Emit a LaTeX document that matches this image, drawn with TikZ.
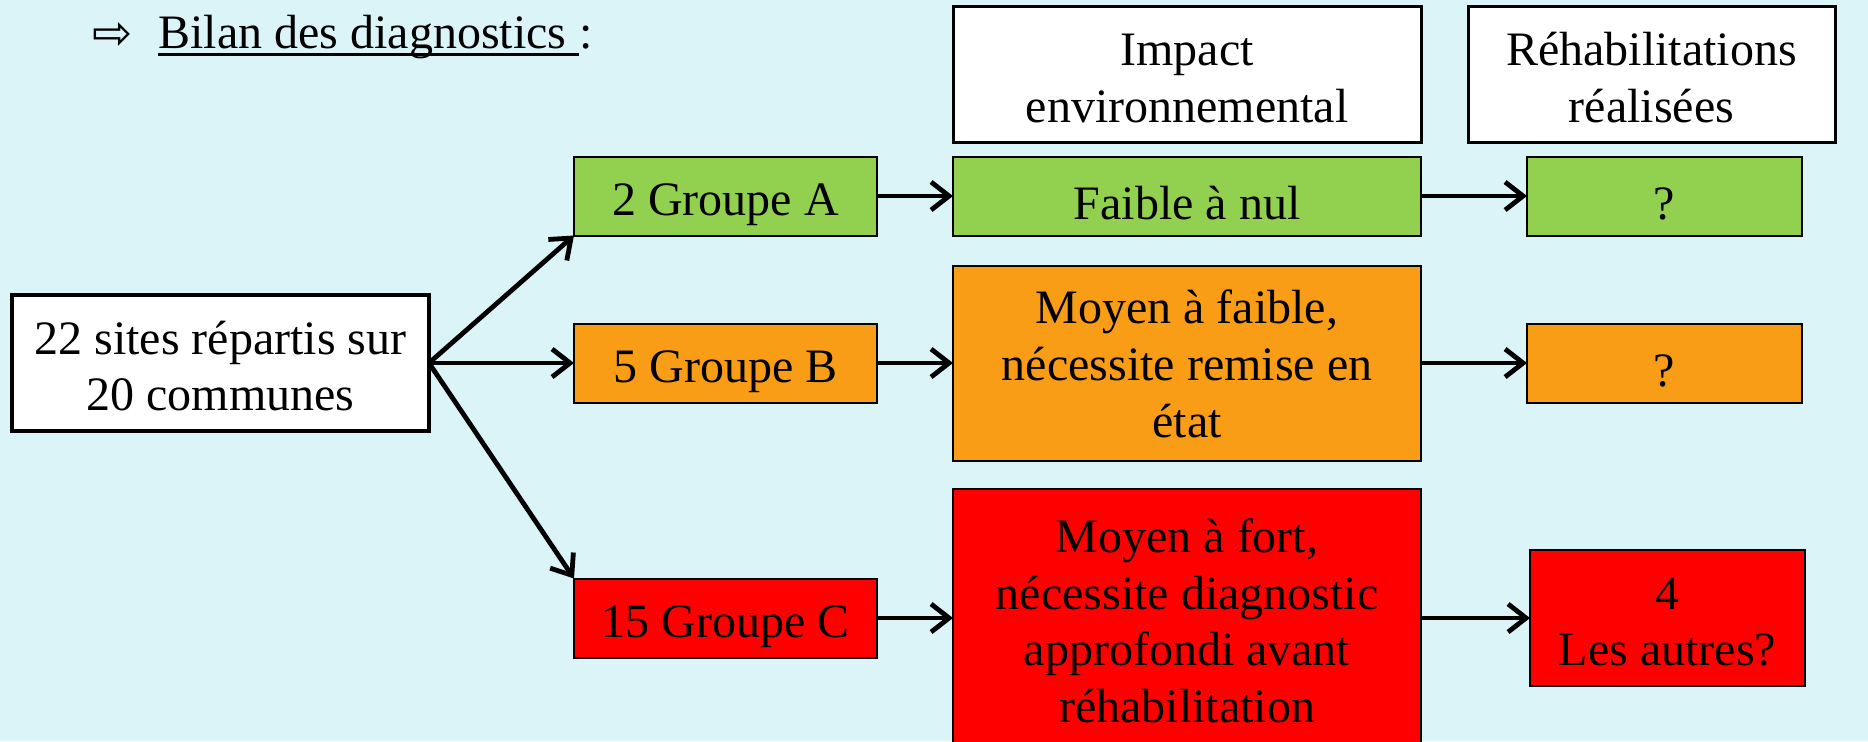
\documentclass[tikz,border=0pt]{standalone}
\usepackage{fontspec}
\setmainfont{Liberation Serif}
\newfontfamily\symbfont{DejaVu Sans}
\definecolor{bgcyan}{RGB}{218,244,248}
\definecolor{lotgreen}{RGB}{146,208,80}
\definecolor{lotorange}{RGB}{250,157,22}
\definecolor{lotred}{RGB}{255,0,0}
\usetikzlibrary{arrows.meta,positioning}
\newcommand{\linestrut}{\rule[-1.5pt]{0pt}{26.5pt}}

\begin{document}
\begin{tikzpicture}[node distance=38pt, font=\fontsize{24}{28.3}\selectfont,
  box/.style={rectangle, draw, line width=1pt, align=center, inner sep=2pt, outer sep=0pt,
    minimum width=151.5pt, minimum height=39.5pt,
    execute at begin node=\linestrut, execute at end node=\linestrut},
  lines/.style={text height=#1, text depth=1.5pt},
  hdr/.style={box, lines=49.3pt, line width=1.5pt, fill=white, minimum height=68pt},
  arr/.style={line width=2.4pt, -{Straight Barb[length=9pt, width=14pt]}}]
\useasboundingbox (0,0) rectangle (934pt,-370.5pt);
\fill[bgcyan] (0,0) rectangle (934pt,-370.5pt);
% title line
\node[inner sep=0pt, font=\symbfont\fontsize{24}{24}\selectfont] (puce) at (56.5pt,-18pt) {⇨};
\node[anchor=base west, inner sep=0pt] (bilan) at (79pt,-24pt) {Bilan des diagnostics\ \null};
\node[anchor=base west, inner sep=0pt] (colon) at (bilan.base east) {:};
\draw[line width=1.4pt] ([yshift=-3.3pt]bilan.base west) -- ([yshift=-3.3pt]bilan.base east);
% source and groups
\node[box, lines=49.3pt, line width=2pt, fill=white, minimum width=208.5pt, minimum height=68pt] (sites) at (110.25pt,-181.5pt) {22 sites répartis sur\\20 communes};
\node[box, fill=lotorange, right=72.5pt of sites] (grpB) {5 Groupe B};
\node[box, fill=lotgreen, above=44pt of grpB] (grpA) {2 Groupe A};
\node[box, fill=lotred, below=88pt of grpB] (grpC) {15 Groupe C};
% impact column
\node[box, fill=lotgreen, minimum width=234pt, right=of grpA] (impA) {Faible à nul};
\node[box, lines=75.6pt, fill=lotorange, minimum width=234pt, minimum height=97.5pt, right=of grpB] (impB) {Moyen à faible,\\nécessite remise en\\état};
\node[box, lines=105.9pt, fill=lotred, minimum width=234pt, minimum height=129pt, right=of grpC] (impC) {Moyen à fort,\\nécessite diagnostic\\approfondi avant\\réhabilitation};
% rehabilitation column
\node[box, fill=lotgreen, minimum width=137.5pt, right=53pt of impA] (rehA) {?};
\node[box, fill=lotorange, minimum width=137.5pt, right=53pt of impB] (rehB) {?};
\node[box, lines=49.3pt, fill=lotred, minimum width=137.5pt, minimum height=68pt, right=54.5pt of impC] (rehC) {4\\Les autres?};
% headers
\node[hdr, minimum width=234pt, above=7pt of impA] (hdrImpact) {Impact\\environnemental};
\node[hdr, minimum width=183.5pt, right=23.5pt of hdrImpact] (hdrRehab) {Réhabilitations\\réalisées};
% connectors
\draw[arr] (sites.east) -- (grpA.south west);
\draw[arr] (sites.east) -- (grpB.west);
\draw[arr] (sites.east) -- (grpC.north west);
\foreach \r in {A,B,C} {
  \draw[arr] (grp\r) -- (imp\r);
  \draw[arr] (imp\r) -- (reh\r);
}
\end{tikzpicture}
\end{document}
